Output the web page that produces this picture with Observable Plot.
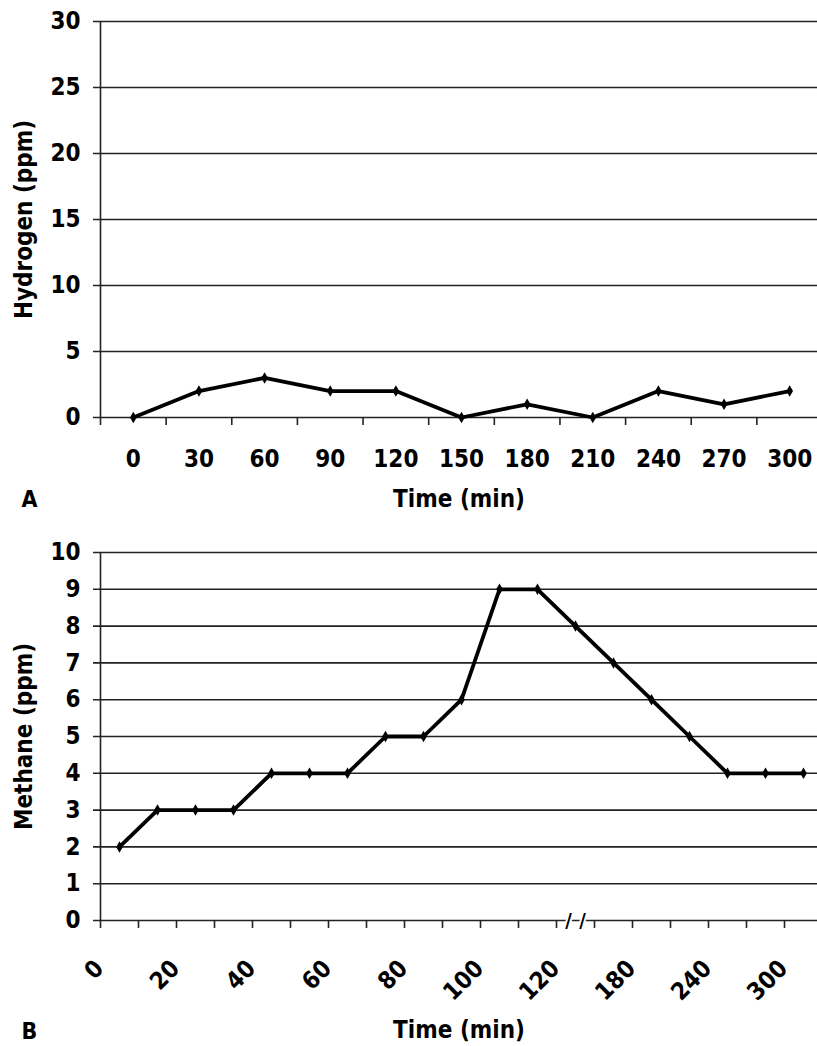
<!DOCTYPE html>
<html><head><meta charset="utf-8">
<script src="https://cdn.jsdelivr.net/npm/d3@7"></script>
<script src="https://cdn.jsdelivr.net/npm/@observablehq/plot@0.6"></script>
<style>
body{margin:0;background:#fff;}
#chart svg{display:block;}
</style></head><body><div id="chart"></div>
<script>
// ---- Data ----
const hydrogenTimes = ["0","30","60","90","120","150","180","210","240","270","300"];
const hydrogenValues = [0,2,3,2,2,0,1,0,2,1,2];
const hydrogenYTicks = [0,5,10,15,20,25,30];

const methaneTimes = ["0","10","20","30","40","50","60","70","80","90","100","110","120","150","180","210","240","270","300"];
const methaneValues = [2,3,3,3,4,4,4,5,5,6,9,9,8,7,6,5,4,4,4];
const methaneTickLabels = ["0","20","40","60","80","100","120","180","240","300"];
const methaneYTicks = [0,1,2,3,4,5,6,7,8,9,10];
const methaneBreakAt = "120";

// ---- Styling ----
const FONT = '"DejaVu Sans Condensed", "DejaVu Sans", sans-serif';
const GRID = "#222";
const FS = 24;
const style = {fontFamily: FONT, fontSize: FS + "px", fontWeight: "bold", color: "#000", background: "#fff"};

function panel({times, values, yTicks, yLabel, letter, height, marginTop, marginBottom, labelTicks, rotate, breakAt}) {
  const n = times.length;
  const data = times.map((t, i) => ({i, t, v: values[i]}));
  const bounds = d3.range(n + 1).map(i => i - 0.5);
  const labelIdx = labelTicks.map(l => times.indexOf(l));
  const marks = [
    Plot.ruleY(yTicks, {stroke: GRID, strokeWidth: 1.6, insetLeft: -7}),
    Plot.ruleX([-0.5], {y1: yTicks[0], y2: yTicks[yTicks.length - 1], stroke: GRID, strokeWidth: 1.6}),
    Plot.axisX(bounds, {tickSize: 8, tickFormat: () => "", label: null, stroke: GRID, strokeWidth: 1.6}),
    rotate
      ? Plot.axisX(labelIdx, {tickSize: 0, tickPadding: 44, tickRotate: -45, dx: -20, label: null, tickFormat: i => times[i], fontSize: FS, fontWeight: "bold"})
      : Plot.axisX(labelIdx, {tickSize: 0, tickPadding: 32, label: null, tickFormat: i => times[i], fontSize: FS, fontWeight: "bold"}),
    Plot.axisY(yTicks, {tickSize: 0, tickPadding: 20, label: null, fontSize: FS, fontWeight: "bold"}),
    Plot.line(data, {x: "i", y: "v", stroke: "#000", strokeWidth: 3.8}),
    Plot.dot(data, {x: "i", y: "v", symbol: "diamond", r: 3.5, fill: "#000"}),
    Plot.text(["Time (min)"], {frameAnchor: "bottom", lineAnchor: "middle", dy: rotate ? 110 : 82, fontSize: FS, fontWeight: "bold"}),
    Plot.text([letter], {frameAnchor: "bottom-left", textAnchor: "start", lineAnchor: "middle", dx: -79, dy: rotate ? 111 : 82, fontSize: FS - 1, fontWeight: "bold"}),
    Plot.text([yLabel], {frameAnchor: "left", textAnchor: "middle", rotate: -90, lineAnchor: "middle", dx: -76, fontSize: FS, fontWeight: "bold"})
  ];
  if (breakAt) {
    const b = [{i: times.indexOf(breakAt)}];
    for (const dx of [-7, 7]) {
      marks.push(Plot.text(b, {x: "i", y: () => 0, text: () => "/", dx, fontSize: 20, fontWeight: "bold", stroke: "#fff", strokeWidth: 4, paintOrder: "stroke", fill: "#000"}));
    }
  }
  return Plot.plot({
    width: 817, height, marginLeft: 100, marginRight: 0, marginTop, marginBottom,
    x: {type: "linear", domain: [-0.5, n - 0.5], range: [100, 822]},
    y: {domain: [yTicks[0], yTicks[yTicks.length - 1]]},
    style,
    marks
  });
}

const chart = document.getElementById("chart");
chart.append(panel({
  times: hydrogenTimes, values: hydrogenValues, yTicks: hydrogenYTicks,
  yLabel: "Hydrogen (ppm)", letter: "A", height: 520, marginTop: 21, marginBottom: 103,
  labelTicks: hydrogenTimes, rotate: false
}));
chart.append(panel({
  times: methaneTimes, values: methaneValues, yTicks: methaneYTicks,
  yLabel: "Methane (ppm)", letter: "B", height: 526, marginTop: 32, marginBottom: 126,
  labelTicks: methaneTickLabels, rotate: true, breakAt: methaneBreakAt
}));
</script></body></html>
